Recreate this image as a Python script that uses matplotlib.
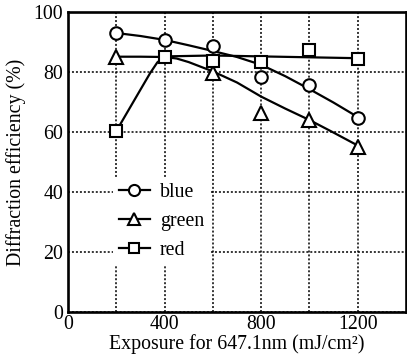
import matplotlib
matplotlib.use("Agg")
import matplotlib.pyplot as plt
from matplotlib.lines import Line2D

blue_x = [200, 400, 600, 800, 1000, 1200]
blue_y = [93.0, 90.7, 88.7, 78.2, 75.8, 64.6]

green_x = [200, 600, 800, 1000, 1200]
green_y = [85.1, 79.6, 66.3, 64.0, 55.1]

red_x = [200, 400, 600, 800, 1000, 1200]
red_y = [60.3, 84.9, 83.8, 83.2, 87.2, 84.5]

# ── Hand-drawn trend curves ───────────────────────────────────────────────────
blue_fit_x = [200, 300, 400, 500, 600, 700, 800, 900, 1000, 1100, 1200]
blue_fit_y = [93.0, 92.0, 90.7, 88.9, 87.0, 85.0, 82.4, 78.6, 74.3, 69.8, 65.0]

green_fit_x = [200, 300, 400, 450, 500, 600, 700, 800, 900, 1000, 1100, 1200]
green_fit_y = [85.1, 85.1, 85.0, 84.5, 83.3, 80.2, 76.5, 71.8, 67.8, 64.0, 59.8, 55.5]

red_fit_x = [200, 250, 300, 340, 370, 400, 600, 800, 1000, 1200]
red_fit_y = [60.3, 67.2, 74.1, 79.6, 83.2, 85.2, 85.5, 85.2, 84.9, 84.6]

series_labels = ["blue", "green", "red"]
x_major = [0, 400, 800, 1200]
x_minor = [200, 600, 1000]
y_ticks = [0, 20, 40, 60, 80, 100]

plt.rcParams["font.family"] = ["Liberation Serif", "DejaVu Serif"]
plt.rcParams["font.size"] = 14.3

fig = plt.figure(figsize=(4.07, 3.59), dpi=100)
ax = fig.add_axes([68 / 407, 47 / 359, 338 / 407, 300 / 359])

ax.set_xlim(0, 1400)
ax.set_ylim(0, 100)
ax.set_xticks(x_major)
ax.set_xticks(x_minor, minor=True)
ax.set_yticks(y_ticks)
ax.tick_params(which="both", length=0)
ax.tick_params(axis="x", pad=2.5)
ax.tick_params(axis="y", pad=3.6)

grid_kw = dict(color="black", linewidth=1.1, linestyle=(0, (1.3, 1.3)))
ax.grid(True, which="both", **grid_kw)
ax.set_axisbelow(True)

for s in ax.spines.values():
    s.set_linewidth(1.9)

line_kw = dict(color="black", linewidth=1.6, zorder=3)
ax.plot(blue_fit_x, blue_fit_y, **line_kw)
ax.plot(green_fit_x, green_fit_y, **line_kw)
ax.plot(red_fit_x, red_fit_y, **line_kw)

mk_kw = dict(linestyle="none", markerfacecolor="white", markeredgecolor="black",
             markeredgewidth=1.5, zorder=4)
ax.plot(blue_x, blue_y, marker="o", markersize=9, **mk_kw)
ax.plot(green_x, green_y, marker="^", markersize=10, **mk_kw)
ax.plot(red_x, red_y, marker="s", markersize=8.5, **mk_kw)

handles = [
    Line2D([], [], color="black", linewidth=1.6, marker=m, markersize=ms,
           markerfacecolor="white", markeredgecolor="black", markeredgewidth=1.5)
    for m, ms in [("o", 8), ("^", 9), ("s", 7.5)]
]
leg = ax.legend(handles, series_labels, loc="upper left",
                bbox_to_anchor=(0.133, 0.45), borderaxespad=0, borderpad=0.3,
                handlelength=1.55, handletextpad=0.5, labelspacing=0.5,
                frameon=True, fancybox=False, framealpha=1, facecolor="white",
                edgecolor="none")
leg.set_zorder(5)

ax.set_xlabel("Exposure for 647.1nm (mJ/cm\u00b2)", labelpad=0)
ax.set_ylabel("Diffraction efficiency (%)", labelpad=5)

fig.savefig("out.png", dpi=100)
